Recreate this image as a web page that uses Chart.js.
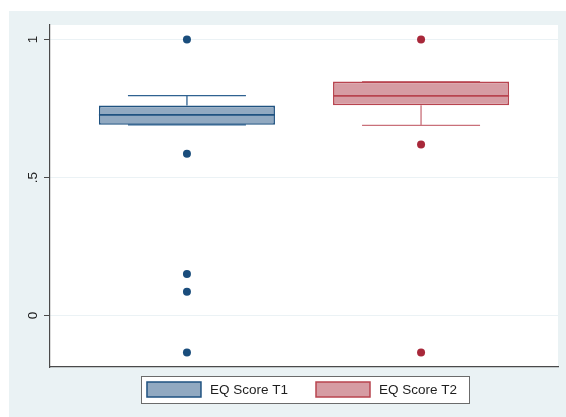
<!DOCTYPE html>
<html>
<head>
<meta charset="utf-8">
<script src="https://cdn.jsdelivr.net/npm/chart.js@4/dist/chart.umd.min.js"></script>
<style>
  html, body { margin: 0; padding: 0; background: #ffffff; }
  #wrap { width: 566px; height: 417px; position: relative; }
</style>
</head>
<body>
<div id="wrap"><canvas id="chart" width="566" height="417"></canvas></div>
<script>
// EQ score distributions at two time points (box summaries + outside values)
const groups = ['EQ Score T1', 'EQ Score T2'];
const groupPositions = [1, 2];
const whiskerLow = [0.691, 0.689];
const quartile1 = [0.691, 0.762];
const medians = [0.727, 0.796];
const quartile3 = [0.761, 0.848];
const whiskerHigh = [0.797, 0.848];
const outliersT1 = [1, 0.586, 0.150, 0.086, -0.134];
const outliersT2 = [1, 0.620, -0.134];
const yTickValues = [0, 0.5, 1];
const yTickLabels = ['0', '.5', '1'];

const outliers = [outliersT1, outliersT2];

// styling
const palette = [
  { fill: '#91a9c1', edge: '#1f5280', whisker: '#2f6291', dot: '#1a4d7c' },
  { fill: '#d69ca3', edge: '#b8444f', whisker: '#c9707a', dot: '#a8283a' }
];
const BOX_HALF = 0.376;   // half box width, in x units
const CAP_HALF = 0.252;   // half whisker-cap width, in x units
const FONT = '"Liberation Sans", Arial, Helvetica, sans-serif';

function whiskerPath(i) {
  const p = groupPositions[i];
  return [
    { x: p - CAP_HALF, y: whiskerHigh[i] }, { x: p + CAP_HALF, y: whiskerHigh[i] }, { x: p, y: null },
    { x: p, y: whiskerHigh[i] }, { x: p, y: quartile3[i] }, { x: p, y: null },
    { x: p, y: quartile1[i] }, { x: p, y: whiskerLow[i] }, { x: p, y: null },
    { x: p - CAP_HALF, y: whiskerLow[i] }, { x: p + CAP_HALF, y: whiskerLow[i] }
  ];
}
function medianPath(i) {
  const p = groupPositions[i];
  return [{ x: p - BOX_HALF, y: medians[i] }, { x: p + BOX_HALF, y: medians[i] }];
}

const datasets = [];
// whiskers sit underneath the boxes
groups.forEach((name, i) => {
  datasets.push({
    type: 'line', label: name + ' whiskers', order: 4,
    data: whiskerPath(i), borderColor: palette[i].whisker, borderWidth: 1.3,
    pointRadius: 0, spanGaps: false, fill: false, tension: 0
  });
});
groups.forEach((name, i) => {
  datasets.push({
    type: 'bar', label: name, order: 3,
    data: [{ x: groupPositions[i], y: [quartile1[i], quartile3[i]] }],
    backgroundColor: palette[i].fill, borderColor: palette[i].edge,
    borderWidth: 1.6, borderSkipped: false, grouped: false,
    categoryPercentage: 1, barPercentage: 2 * BOX_HALF
  });
});
groups.forEach((name, i) => {
  datasets.push({
    type: 'line', label: name + ' median', order: 1,
    data: medianPath(i), borderColor: palette[i].edge, borderWidth: 1.6,
    pointRadius: 0, fill: false, tension: 0
  });
});
groups.forEach((name, i) => {
  datasets.push({
    type: 'scatter', label: name + ' outside values', order: 0,
    data: outliers[i].map(v => ({ x: groupPositions[i], y: v })),
    backgroundColor: palette[i].dot, borderWidth: 0, pointRadius: 4, pointHoverRadius: 4
  });
});

// backgrounds: graph region, then white plot region
const backdrop = {
  id: 'backdrop',
  beforeDraw(chart) {
    const { ctx, chartArea: a, width, height } = chart;
    ctx.save();
    ctx.fillStyle = '#ffffff';
    ctx.fillRect(0, 0, width, height);
    ctx.fillStyle = '#eaf2f4';
    ctx.fillRect(9, 11, width - 9, height - 11);
    ctx.fillStyle = '#ffffff';
    ctx.fillRect(a.left, a.top, a.right - a.left, a.bottom - a.top);
    ctx.restore();
  }
};

// framed legend below the plot region
const framedLegend = {
  id: 'framedLegend',
  afterDraw(chart) {
    const { ctx, chartArea: a } = chart;
    const swW = 54, swH = 15, gap = 9, itemGap = 28, padL = 6, padR = 12;
    ctx.save();
    ctx.font = '13.5px ' + FONT;
    const widths = groups.map(g => ctx.measureText(g).width);
    let total = 0;
    groups.forEach((g, i) => { total += swW + gap + widths[i] + (i < groups.length - 1 ? itemGap : 0); });
    const cx = (a.left + a.right) / 2 + 1;
    let x = cx - total / 2 - (padR - padL) / 2;
    const top = a.bottom + 9, h = 27;
    const frameL = x - padL, frameR = x + total + padR;
    ctx.fillStyle = '#ffffff';
    ctx.fillRect(frameL, top, frameR - frameL, h);
    ctx.strokeStyle = '#6b6b6b';
    ctx.lineWidth = 1;
    ctx.strokeRect(Math.round(frameL) + 0.5, top + 0.5, Math.round(frameR - frameL), h);
    const cy = top + h / 2;
    groups.forEach((g, i) => {
      ctx.fillStyle = palette[i].fill;
      ctx.fillRect(x, cy - swH / 2, swW, swH);
      ctx.strokeStyle = palette[i].edge;
      ctx.lineWidth = 1.5;
      ctx.strokeRect(x, cy - swH / 2, swW, swH);
      ctx.fillStyle = '#1e1e1e';
      ctx.textBaseline = 'middle';
      ctx.textAlign = 'left';
      ctx.fillText(g, x + swW + gap, cy + 0.5);
      x += swW + gap + widths[i] + itemGap;
    });
    ctx.restore();
  }
};

new Chart(document.getElementById('chart'), {
  type: 'scatter',
  data: { datasets },
  plugins: [backdrop, framedLegend],
  options: {
    responsive: false,
    animation: false,
    events: [],
    layout: { padding: { left: 0, right: 8, top: 25, bottom: 50 } },
    plugins: { legend: { display: false }, tooltip: { enabled: false } },
    scales: {
      x: {
        type: 'linear', min: 0.415, max: 2.585, offset: false,
        afterBuildTicks: s => { s.ticks = groupPositions.map(v => ({ value: v })); },
        afterFit: s => { s.height = 0; },
        ticks: { display: false },
        grid: { display: false, drawTicks: false },
        border: { display: true, color: '#4a4a4a', width: 1.2 }
      },
      y: {
        type: 'linear', min: -0.187, max: 1.053,
        afterBuildTicks: s => { s.ticks = yTickValues.map(v => ({ value: v })); },
        afterFit: s => { s.width = 50; },
        ticks: {
          minRotation: 90, maxRotation: 90, crossAlign: 'center', padding: 5,
          color: '#1e1e1e', font: { family: FONT, size: 13.5 },
          callback: (v, idx) => yTickLabels[idx]
        },
        grid: { color: '#ebf2f5', lineWidth: 1, tickLength: 6, tickColor: '#4a4a4a', tickWidth: 1 },
        border: { display: true, color: '#4a4a4a', width: 1.2 }
      }
    }
  }
});
</script>
</body>
</html>
